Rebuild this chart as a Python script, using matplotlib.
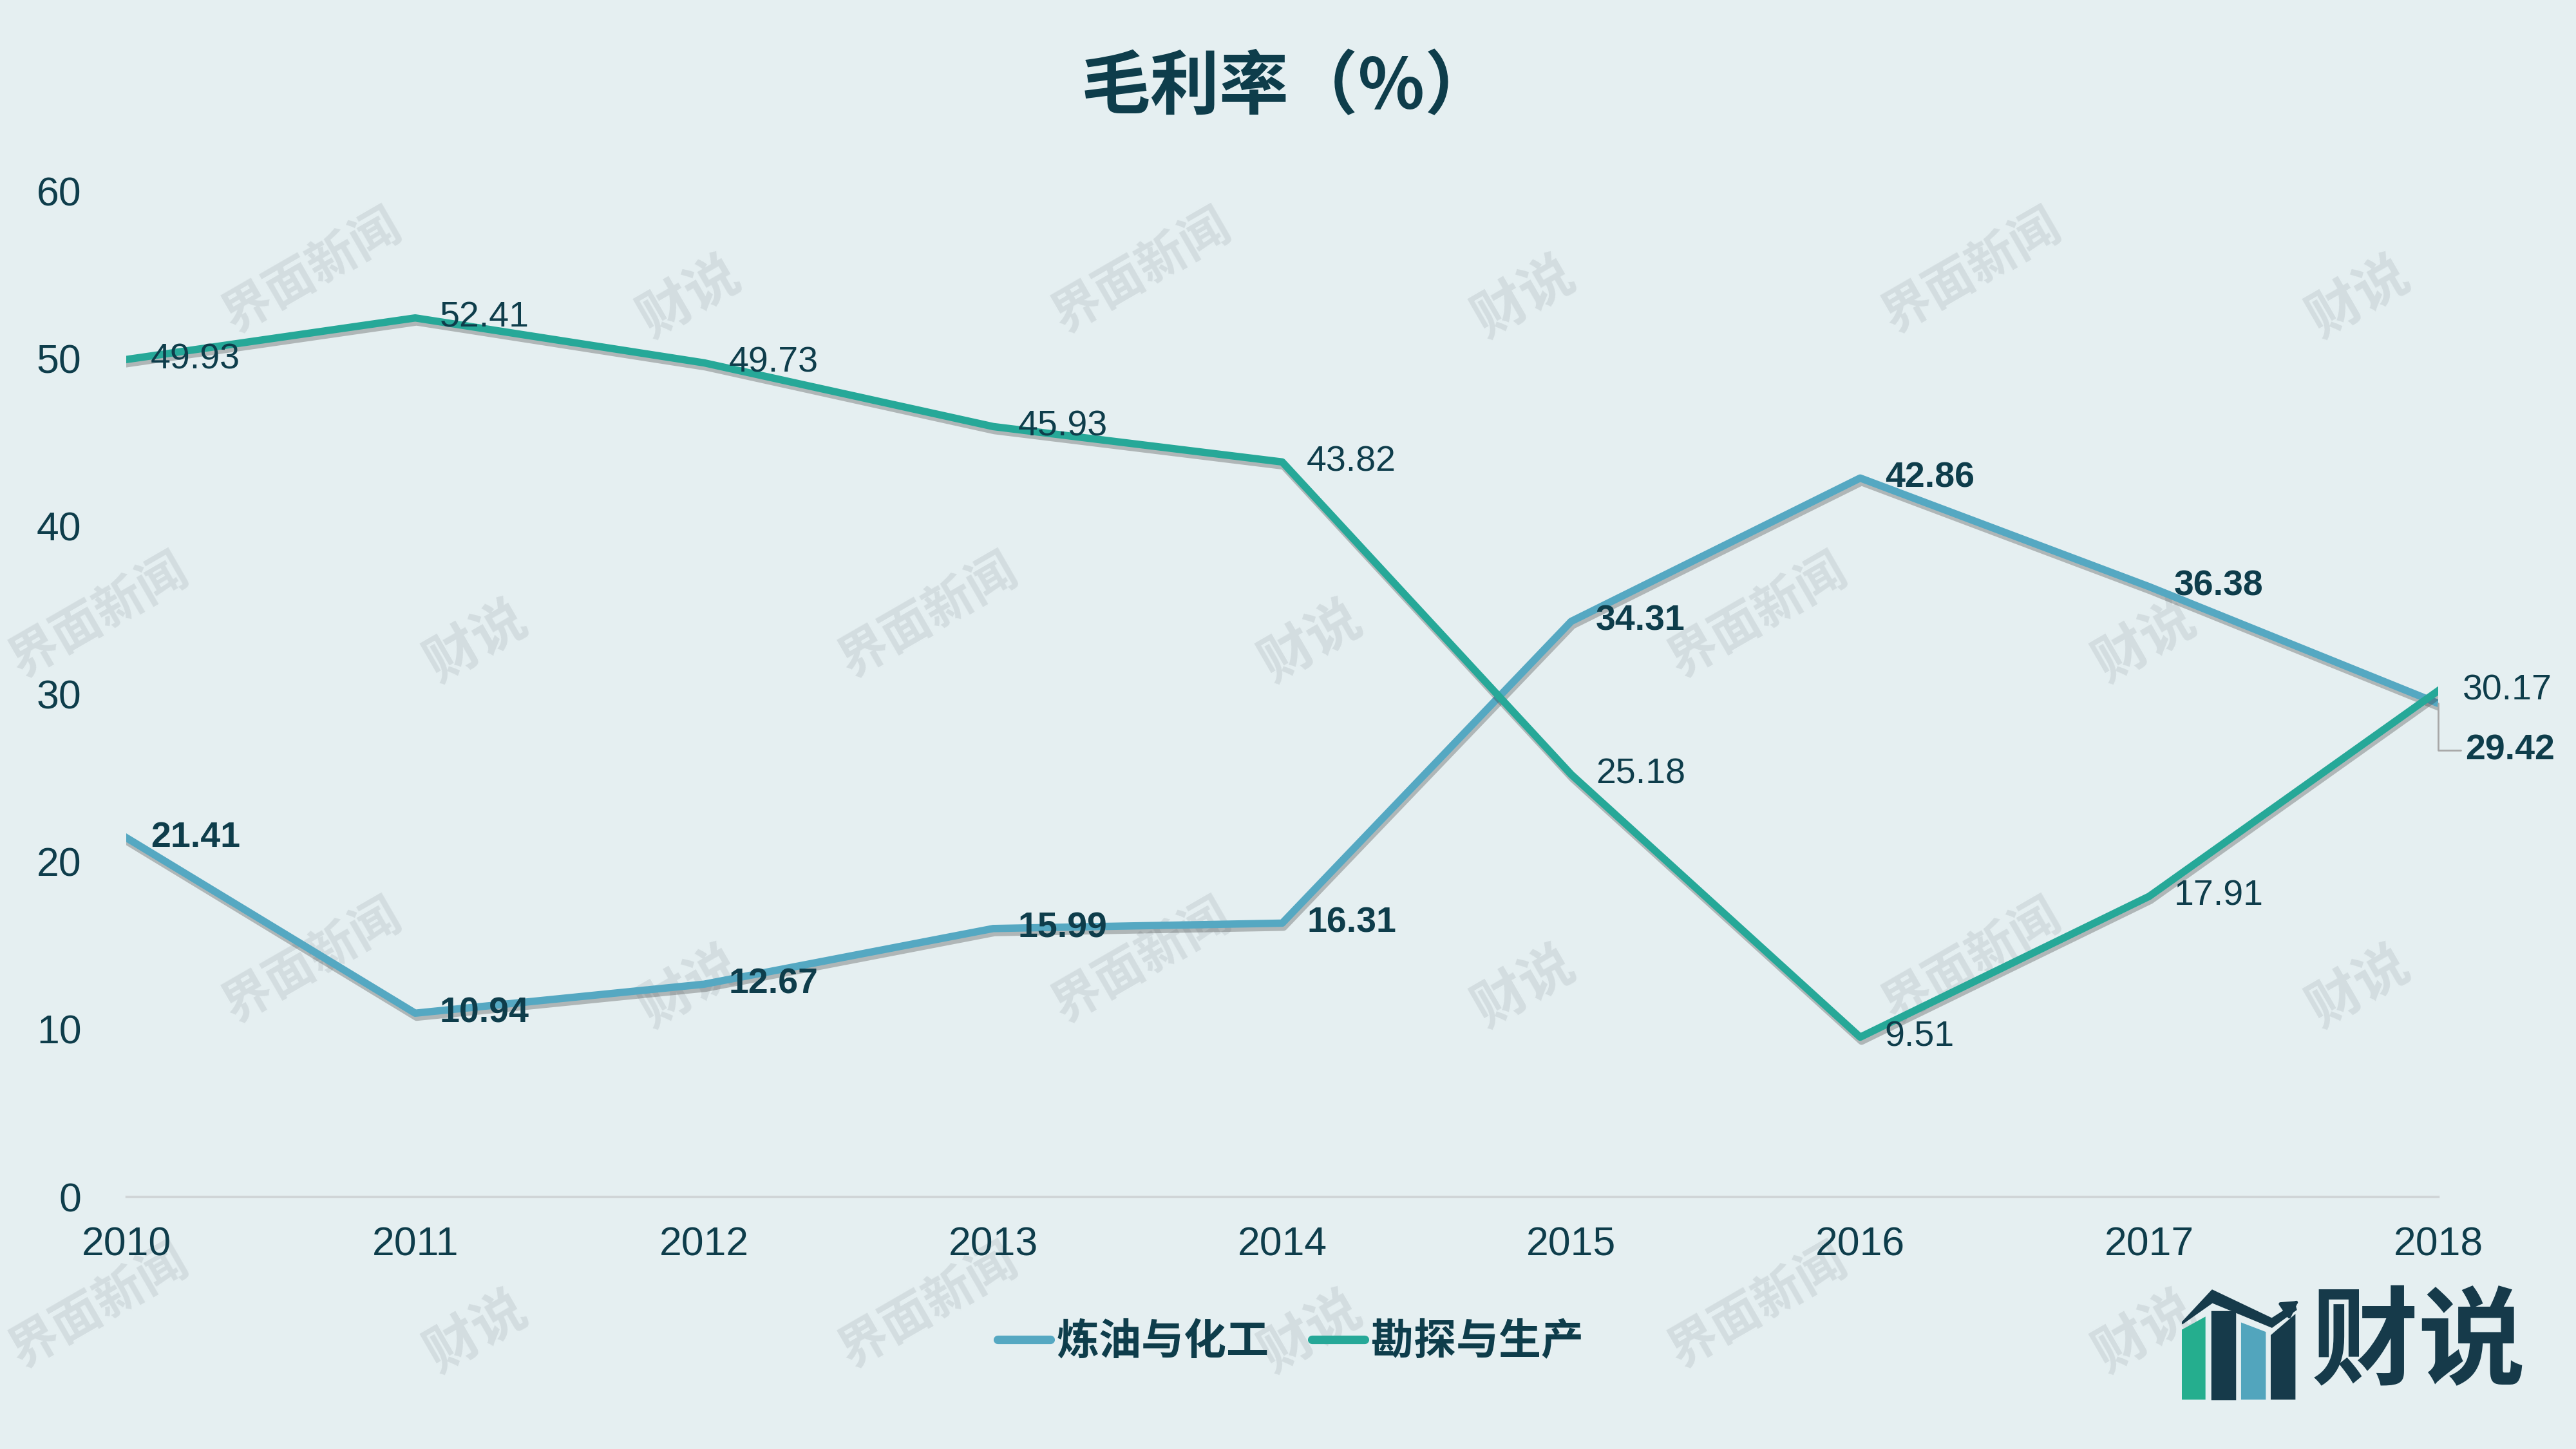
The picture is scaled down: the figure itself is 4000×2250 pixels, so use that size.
import matplotlib
matplotlib.use("Agg")
import matplotlib.pyplot as plt
import matplotlib.patheffects as pe
from matplotlib.lines import Line2D
from matplotlib.patches import Polygon

# data
years = [2010, 2011, 2012, 2013, 2014, 2015, 2016, 2017, 2018]
refining = [21.41, 10.94, 12.67, 15.99, 16.31, 34.31, 42.86, 36.38, 29.42]
exploration = [49.93, 52.41, 49.73, 45.93, 43.82, 25.18, 9.51, 17.91, 30.17]
series_names = ["炼油与化工", "勘探与生产"]
title = "毛利率（%）"
yticks = [0, 10, 20, 30, 40, 50, 60]

BG = "#E5EFF1"
DARK = "#0E3D4B"
BLUE = "#55A8C2"
GREEN = "#26A898"
WM = "#D3DDE0"
NUM_FONT = ["Liberation Sans", "DejaVu Sans"]
CJK_FONT = ["Noto Sans CJK SC", "DejaVu Sans"]

fig = plt.figure(figsize=(16, 9), dpi=250, facecolor=BG)

# faint watermarks behind everything
for row in range(4):
    yy = 1 - (165 + row * 210) / 882
    shift = 0 if row % 2 == 0 else -130
    for col in range(4):
        x1 = (190 + shift + col * 505) / 1568
        x2 = (420 + shift + col * 508) / 1568
        if x1 < 0.97:
            fig.text(x1, yy, "界面新闻", rotation=30, fontsize=22, fontweight="bold",
                     family=CJK_FONT, color=WM, ha="center", va="center", zorder=-5)
        if x2 < 0.97:
            fig.text(x2, yy - 0.018, "财说", rotation=30, fontsize=24, fontweight="bold",
                     family=CJK_FONT, color=WM, ha="center", va="center", zorder=-5)

ax = fig.add_axes([0.049, 0.1742, 0.8975, 0.6942])
ax.set_facecolor("none")

shadow = [pe.SimpleLineShadow(offset=(0.6, -1.8), shadow_color="#333333", alpha=0.3), pe.Normal()]
ax.plot(years, refining, color=BLUE, lw=3.3, solid_joinstyle="round", path_effects=shadow, zorder=3)
ax.plot(years, exploration, color=GREEN, lw=3.3, solid_joinstyle="round", path_effects=shadow, zorder=4)

# data labels
for i, (x, v) in enumerate(zip(years, refining)):
    if i == len(years) - 1:
        ax.annotate(f"{v:.2f}", (x, v), xytext=(12, -21), textcoords="offset points",
                    ha="left", va="center", fontsize=16, fontweight="bold", color=DARK,
                    family=NUM_FONT, zorder=6,
                    arrowprops=dict(arrowstyle="-", color="#A8A8A8", lw=0.8, shrinkA=0, shrinkB=0,
                                    relpos=(0, 0.5),
                                    connectionstyle="angle,angleA=0,angleB=90,rad=0"))
    else:
        ax.annotate(f"{v:.2f}", (x, v), xytext=(11, 0), textcoords="offset points",
                    ha="left", va="center", fontsize=16, fontweight="bold", color=DARK,
                    family=NUM_FONT, zorder=6)
for x, v in zip(years, exploration):
    ax.annotate(f"{v:.2f}", (x, v), xytext=(11, 0), textcoords="offset points",
                ha="left", va="center", fontsize=16, color=DARK, family=NUM_FONT, zorder=6)

ax.set_xlim(years[0], years[-1])
ax.set_ylim(0, 60)
ax.set_xticks(years)
ax.set_yticks(yticks)
ax.tick_params(axis="both", length=0, labelsize=18, labelcolor=DARK)
ax.tick_params(axis="x", pad=13)
ax.tick_params(axis="y", pad=20)
for lab in ax.get_xticklabels() + ax.get_yticklabels():
    lab.set_family(NUM_FONT)
for side in ["top", "right", "left"]:
    ax.spines[side].set_visible(False)
ax.spines["bottom"].set_color("#D0D5D7")
ax.spines["bottom"].set_linewidth(1.0)
ax.spines["bottom"].set_zorder(2)

fig.text(0.5, 0.939, title, ha="center", va="center", fontsize=31, fontweight="bold",
         family=CJK_FONT, color=DARK)

handles = [Line2D([], [], color=BLUE, lw=3.8, solid_capstyle="round"),
           Line2D([], [], color=GREEN, lw=3.8, solid_capstyle="round")]
leg = fig.legend(handles, series_names, loc="center", bbox_to_anchor=(0.501, 0.074), ncol=2,
                 frameon=False, handlelength=1.25, handletextpad=0.15, columnspacing=1.0,
                 prop=dict(family=CJK_FONT, weight="bold", size=19))
for t in leg.get_texts():
    t.set_color(DARK)

# logo bottom right
lax = fig.add_axes([3388 / 4000, 1 - 2175 / 2250, 528 / 4000, 175 / 2250])
lax.set_xlim(90, 1375)
lax.set_ylim(675, 150)
lax.axis("off")
LOGO_DARK = "#163A4A"
lax.add_patch(Polygon([(90, 350), (175, 292), (175, 665), (90, 665)], color="#25AE8E"))
lax.add_patch(Polygon([(205, 262), (290, 262), (290, 665), (205, 665)], color=LOGO_DARK))
lax.add_patch(Polygon([(318, 318), (403, 358), (403, 665), (318, 665)], color="#52A5BD"))
lax.add_patch(Polygon([(430, 372), (515, 282), (515, 665), (430, 665)], color=LOGO_DARK))
lax.add_patch(Polygon([(90, 315), (205, 163), (430, 295), (515, 228), (520, 250), (430, 330),
                       (205, 215)], color=LOGO_DARK))
lax.annotate("", xy=(545, 198), xytext=(505, 232),
             arrowprops=dict(arrowstyle="-|>,head_length=0.6,head_width=0.35", color=LOGO_DARK, lw=1.5))
lax.text(985, 415, "财说", ha="center", va="center", fontsize=48, fontweight="heavy",
         family=CJK_FONT, color=LOGO_DARK)

fig.savefig("out.png", dpi=250, facecolor=BG)
